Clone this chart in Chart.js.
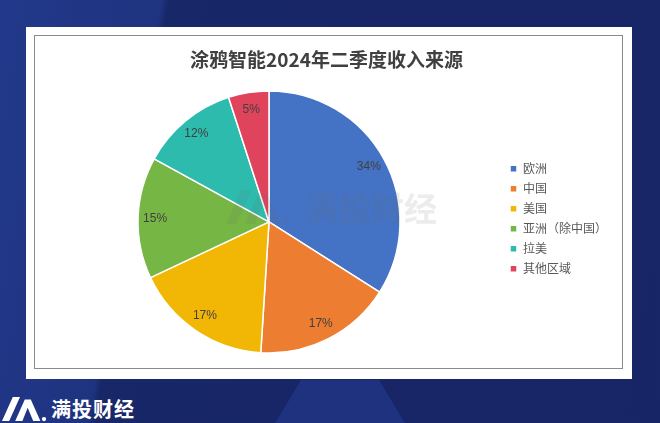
<!DOCTYPE html>
<html lang="zh">
<head>
<meta charset="UTF-8">
<title>涂鸦智能2024年二季度收入来源</title>
<script src="https://cdn.jsdelivr.net/npm/chart.js"></script>
<style>
    body {
        margin: 0;
        width: 660px;
        height: 423px;
        overflow: hidden;
        position: relative;
        background: linear-gradient(100deg, #22388a 0%, #1f3480 22%, #182768 23%, #172466 100%);
        font-family: "Noto Sans CJK SC", sans-serif;
    }
    #glow {
        position: absolute;
        left: 275px; top: 380px; width: 130px; height: 43px;
        background: #1e3280;
        clip-path: polygon(20% 0, 80% 0, 100% 100%, 0 100%);
    }
    #card {
        position: absolute;
        left: 26px; top: 27px; width: 606px; height: 352px;
        background: #fff;
    }
    #frame {
        position: absolute;
        left: 34px; top: 35px; width: 589px; height: 334px;
        border: 1.5px solid #8a8a8a;
        box-sizing: border-box;
    }
    #brand {
        position: absolute;
        left: 51px; top: 395px;
        color: #fff;
        font-size: 20px;
        font-weight: bold;
        line-height: 28px;
        letter-spacing: 1px;
    }
    #wrap {
        position: absolute;
        left: 0; top: 0; width: 660px; height: 423px;
    }
</style>
</head>
<body>
<div id="glow"></div>
<div id="card"></div>
<div id="frame"></div>
<div id="brand">满投财经</div>
<div id="wrap"><canvas id="pie"></canvas></div>

<script>
    // data
    const regions = ['欧洲', '中国', '美国', '亚洲（除中国）', '拉美', '其他区域'];
    const shares = [34, 17, 17, 15, 12, 5];
    const colors = ['#4472c4', '#ed7d31', '#f2b705', '#76b644', '#2dbbae', '#e0435c'];

    // percentage labels inside slices
    const sliceLabels = {
        id: 'sliceLabels',
        afterDatasetsDraw(chart) {
            const ctx = chart.ctx;
            const meta = chart.getDatasetMeta(0);
            ctx.save();
            ctx.font = '12px "Liberation Sans", sans-serif';
            ctx.fillStyle = '#404040';
            ctx.textAlign = 'center';
            ctx.textBaseline = 'middle';
            meta.data.forEach((arc, i) => {
                const p = arc.getProps(['x', 'y', 'startAngle', 'endAngle', 'outerRadius'], true);
                const mid = (p.startAngle + p.endAngle) / 2;
                const r = p.outerRadius * 0.87;
                ctx.fillText(shares[i] + '%', p.x + Math.cos(mid) * r, p.y + Math.sin(mid) * r);
            });
            ctx.restore();
        }
    };

    // faint watermark + corner logo icon
    function drawIcon(ctx, x, y, s, color) {
        ctx.save();
        ctx.fillStyle = color;
        ctx.beginPath();
        ctx.moveTo(x, y + s);
        ctx.lineTo(x + s * 0.45, y);
        ctx.lineTo(x + s * 0.75, y);
        ctx.lineTo(x + s * 0.3, y + s);
        ctx.closePath();
        ctx.moveTo(x + s * 0.55, y + s);
        ctx.lineTo(x + s * 0.95, y + s * 0.1);
        ctx.lineTo(x + s * 1.2, y + s * 0.1);
        ctx.lineTo(x + s * 1.6, y + s);
        ctx.lineTo(x + s * 1.3, y + s);
        ctx.lineTo(x + s * 1.07, y + s * 0.45);
        ctx.lineTo(x + s * 0.85, y + s);
        ctx.closePath();
        ctx.fill();
        ctx.beginPath();
        ctx.arc(x + s * 1.75, y + s * 0.92, s * 0.09, 0, Math.PI * 2);
        ctx.fill();
        ctx.restore();
    }

    const decor = {
        id: 'decor',
        afterDraw(chart) {
            const ctx = chart.ctx;
            ctx.save();
            drawIcon(ctx, 226, 190, 34, 'rgba(110,110,110,0.13)');
            ctx.font = 'bold 33px "Noto Sans CJK SC", sans-serif';
            ctx.fillStyle = 'rgba(110,110,110,0.13)';
            ctx.textBaseline = 'middle';
            ctx.fillText('满投财经', 305, 208);
            drawIcon(ctx, 2, 397, 24, '#ffffff');
            ctx.restore();
        }
    };

    new Chart(document.getElementById('pie'), {
        type: 'pie',
        data: {
            labels: regions,
            datasets: [{
                data: shares,
                backgroundColor: colors,
                borderColor: '#ffffff',
                borderWidth: 1.5,
                hoverOffset: 0
            }]
        },
        options: {
            responsive: true,
            maintainAspectRatio: false,
            animation: false,
            radius: 131,
            layout: {
                padding: { left: 36, right: 43, top: 36, bottom: 60 }
            },
            plugins: {
                title: {
                    display: true,
                    text: '涂鸦智能2024年二季度收入来源',
                    color: '#404040',
                    font: { size: 19, weight: 'bold', family: '"Noto Sans CJK SC", sans-serif' },
                    padding: { top: 12, bottom: 10 }
                },
                legend: {
                    position: 'right',
                    title: {
                        display: true,
                        text: ' ',
                        font: { size: 12 },
                        padding: 12
                    },
                    labels: {
                        boxWidth: 7,
                        boxHeight: 7,
                        padding: 8,
                        color: '#595959',
                        font: { size: 12, family: '"Noto Sans CJK SC", sans-serif' }
                    }
                },
                tooltip: { enabled: false }
            }
        },
        plugins: [sliceLabels, decor]
    });
</script>
</body>
</html>
